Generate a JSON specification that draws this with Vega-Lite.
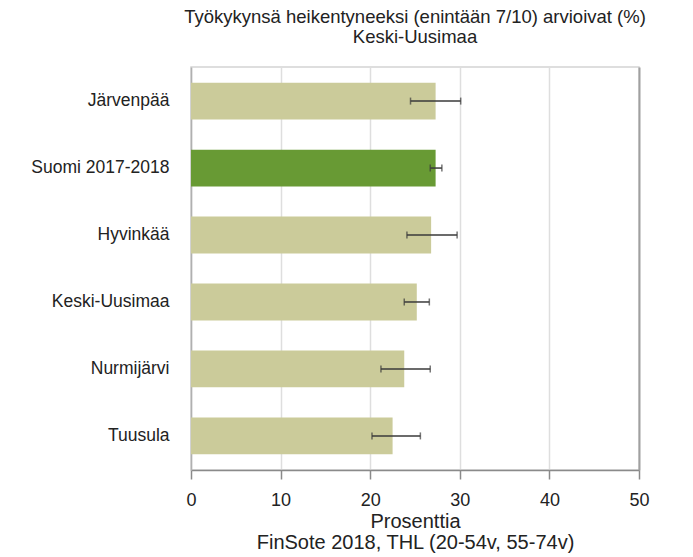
{
  "$schema": "https://vega.github.io/schema/vega-lite/v6.json",
  "width": 448,
  "height": 403,
  "autosize": {"type": "none"},
  "padding": {"left": 191, "top": 67, "right": 54, "bottom": 87},
  "background": "white",
  "config": {
    "view": {"stroke": "#d4d4d4", "strokeWidth": 1.5},
    "font": "Liberation Sans"
  },
  "title": {
    "text": ["Työkykynsä heikentyneeksi (enintään 7/10) arvioivat (%)", "Keski-Uusimaa"],
    "anchor": "middle",
    "frame": "group",
    "font": "Liberation Sans",
    "fontSize": 18.5,
    "fontWeight": "normal",
    "lineHeight": 20,
    "offset": 21,
    "color": "#222222"
  },
  "data": {
    "values": [
      {"alue": "Järvenpää", "ryhma": "alue", "arvo": 27.3, "ala": 24.5, "yla": 30.1},
      {"alue": "Suomi 2017-2018", "ryhma": "Suomi", "arvo": 27.3, "ala": 26.7, "yla": 28.0},
      {"alue": "Hyvinkää", "ryhma": "alue", "arvo": 26.8, "ala": 24.1, "yla": 29.7},
      {"alue": "Keski-Uusimaa", "ryhma": "alue", "arvo": 25.2, "ala": 23.8, "yla": 26.6},
      {"alue": "Nurmijärvi", "ryhma": "alue", "arvo": 23.8, "ala": 21.2, "yla": 26.7},
      {"alue": "Tuusula", "ryhma": "alue", "arvo": 22.5, "ala": 20.2, "yla": 25.6}
    ]
  },
  "encoding": {
    "y": {
      "field": "alue",
      "type": "nominal",
      "sort": ["Järvenpää", "Suomi 2017-2018", "Hyvinkää", "Keski-Uusimaa", "Nurmijärvi", "Tuusula"],
      "scale": {"paddingInner": 0.45, "paddingOuter": 0.234},
      "axis": {
        "title": null,
        "ticks": false,
        "labelPadding": 22,
        "labelFont": "Liberation Sans",
        "labelFontSize": 17.5,
        "labelColor": "#222222",
        "domainColor": "#b0b0b0",
        "domainWidth": 1.5
      }
    }
  },
  "layer": [
    {
      "mark": {"type": "bar"},
      "encoding": {
        "x": {
          "field": "arvo",
          "type": "quantitative",
          "scale": {"domain": [0, 50], "nice": false},
          "title": ["Prosenttia", "FinSote 2018, THL (20-54v, 55-74v)"],
          "axis": {
            "values": [0, 10, 20, 30, 40, 50],
            "grid": true,
            "gridColor": {"condition": {"test": "datum.value === 50", "value": "#a0a0a0"}, "value": "#dedede"},
            "gridWidth": {"condition": {"test": "datum.value === 50", "value": 2}, "value": 1.5},
            "domainColor": "#8a8a8a",
            "domainWidth": 1.5,
            "tickColor": "#8a8a8a",
            "tickSize": 9,
            "tickWidth": 1.5,
            "labelFlush": false,
            "labelFont": "Liberation Sans",
            "labelFontSize": 18,
            "labelColor": "#222222",
            "labelPadding": 12,
            "titleFont": "Liberation Sans",
            "titleFontSize": 20,
            "titleFontWeight": "normal",
            "titleColor": "#222222",
            "titleY": 57,
            "titleBaseline": "alphabetic",
            "titleLineHeight": 21
          }
        },
        "color": {
          "field": "ryhma",
          "type": "nominal",
          "scale": {"domain": ["alue", "Suomi"], "range": ["#cbcb9a", "#689a34"]},
          "legend": null
        }
      }
    },
    {
      "mark": {
        "type": "errorbar",
        "color": "#3a3a3a",
        "thickness": 1.5,
        "ticks": {"size": 7, "thickness": 1.5, "color": "#3a3a3a"}
      },
      "encoding": {
        "x": {"field": "ala", "type": "quantitative", "title": ["Prosenttia", "FinSote 2018, THL (20-54v, 55-74v)"]},
        "x2": {"field": "yla"}
      }
    }
  ]
}
